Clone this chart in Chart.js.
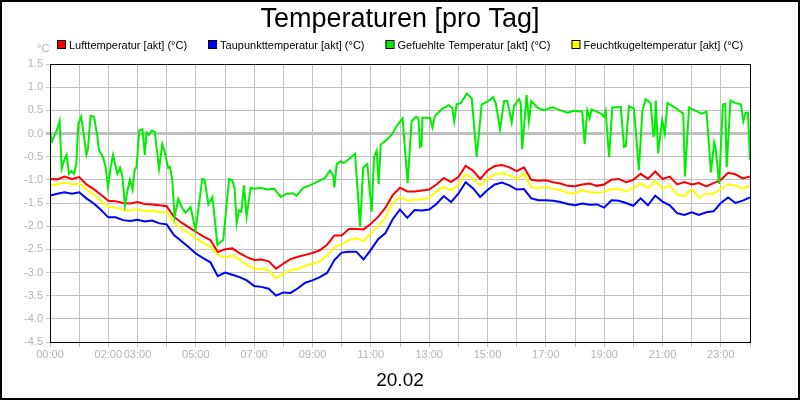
<!DOCTYPE html>
<html>
<head>
<meta charset="utf-8">
<script src="https://cdn.jsdelivr.net/npm/chart.js@4"></script>
<style>
html, body { margin: 0; padding: 0; background: #fff; }
#wrap { width: 800px; height: 400px; }
</style>
</head>
<body>
<div id="wrap"><canvas id="chart" width="800" height="400"></canvas></div>
<script>
// values every 15 minutes, 00:00 .. 24:00
const airTemp = [
    -0.98, -0.99, -0.93, -0.98, -0.94, -1.10, -1.20, -1.32, -1.45, -1.46, -1.50, -1.51, -1.48, -1.52, -1.53, -1.55,
    -1.57, -1.80, -1.92, -2.02, -2.12, -2.22, -2.30, -2.56, -2.50, -2.48, -2.58, -2.67, -2.73, -2.72, -2.76, -2.92,
    -2.81, -2.71, -2.66, -2.62, -2.58, -2.52, -2.40, -2.20, -2.20, -2.06, -2.06, -2.07, -1.95, -1.80, -1.60, -1.33,
    -1.17, -1.25, -1.25, -1.23, -1.21, -1.10, -0.96, -1.05, -0.94, -0.70, -0.80, -0.98, -0.80, -0.70, -0.68, -0.73,
    -0.81, -0.73, -1.00, -1.02, -1.01, -1.05, -1.08, -1.13, -1.14, -1.10, -1.08, -1.13, -1.10, -1.00, -0.98, -1.05,
    -1.00, -0.87, -0.98, -0.82, -0.98, -0.93, -1.10, -1.05, -1.10, -1.07, -1.14, -1.07, -1.00, -0.85, -0.88, -0.97,
    -0.93
];
const dewPoint = [
    -1.34, -1.30, -1.27, -1.30, -1.27, -1.40, -1.51, -1.65, -1.81, -1.81, -1.87, -1.89, -1.86, -1.90, -1.88, -1.94,
    -1.96, -2.19, -2.32, -2.45, -2.59, -2.69, -2.78, -3.08, -3.00, -3.05, -3.10, -3.17, -3.29, -3.31, -3.35, -3.50,
    -3.43, -3.44, -3.34, -3.22, -3.17, -3.10, -3.01, -2.73, -2.57, -2.55, -2.55, -2.72, -2.51, -2.28, -2.15, -1.85,
    -1.64, -1.82, -1.65, -1.66, -1.64, -1.52, -1.35, -1.48, -1.30, -1.05, -1.18, -1.37, -1.22, -1.10, -1.06, -1.12,
    -1.21, -1.20, -1.40, -1.44, -1.44, -1.45, -1.48, -1.52, -1.55, -1.51, -1.54, -1.53, -1.60, -1.44, -1.45, -1.50,
    -1.56, -1.40, -1.55, -1.34, -1.47, -1.55, -1.72, -1.76, -1.70, -1.76, -1.70, -1.68, -1.50, -1.38, -1.50, -1.45,
    -1.38
];
const wetBulb = [
    -1.12, -1.10, -1.05, -1.10, -1.08, -1.20, -1.32, -1.45, -1.58, -1.60, -1.64, -1.66, -1.63, -1.68, -1.66, -1.70,
    -1.70, -1.92, -2.05, -2.15, -2.26, -2.36, -2.44, -2.62, -2.68, -2.63, -2.72, -2.84, -2.92, -2.92, -2.95, -3.13,
    -3.02, -2.95, -2.92, -2.86, -2.81, -2.76, -2.64, -2.45, -2.40, -2.30, -2.26, -2.32, -2.16, -2.00, -1.82, -1.50,
    -1.37, -1.45, -1.43, -1.42, -1.39, -1.25, -1.15, -1.22, -1.12, -0.87, -0.97, -1.12, -0.98, -0.88, -0.86, -0.90,
    -0.98, -0.87, -1.16, -1.18, -1.15, -1.20, -1.22, -1.28, -1.30, -1.22, -1.27, -1.28, -1.26, -1.20, -1.20, -1.25,
    -1.18, -1.08, -1.18, -1.02, -1.19, -1.12, -1.32, -1.35, -1.20, -1.38, -1.30, -1.30, -1.19, -1.10, -1.12, -1.19,
    -1.12
];

// felt temperature is sampled irregularly (hour of day)
const feltHours = [
    0, 0.07, 0.16, 0.23, 0.33, 0.4, 0.5, 0.57, 0.65, 0.73, 0.82, 0.9, 0.97, 1.07, 1.16, 1.25, 1.3, 1.39, 1.51, 1.62,
    1.68, 1.82, 1.91, 1.99, 2.08, 2.16, 2.31, 2.4, 2.48, 2.57, 2.65, 2.74, 2.83, 2.9, 2.97, 3.06, 3.17, 3.25, 3.31, 3.39,
    3.49, 3.59, 3.74, 3.85, 3.93, 4.05, 4.11, 4.19, 4.27, 4.4, 4.54, 4.65, 4.82, 4.99, 5.22, 5.3, 5.43, 5.57, 5.74, 5.85,
    5.94, 6.14, 6.25, 6.33, 6.4, 6.48, 6.56, 6.65, 6.74, 6.88, 7.02, 7.22, 7.45, 7.68, 7.91, 8.0,
    8.11, 8.32, 8.46, 8.69, 8.91, 9.14, 9.43, 9.6, 9.71, 9.75, 9.83, 9.97, 10.08, 10.29, 10.46, 10.63, 10.74, 10.88, 11.03, 11.11,
    11.2, 11.27, 11.34, 11.54, 11.71, 11.89, 12.09, 12.26, 12.4, 12.55, 12.63, 12.69, 12.74, 12.77, 13.03, 13.11, 13.2, 13.43, 13.66, 13.79,
    13.86, 13.94, 14.09, 14.29, 14.46, 14.63, 14.8, 14.91, 15.03, 15.2, 15.29, 15.43, 15.57, 15.68, 15.83, 15.91, 16.0,
    16.08, 16.14, 16.19, 16.34, 16.42, 16.5, 16.71, 16.94, 17.22, 17.51, 17.74, 17.97, 18.25, 18.33, 18.42, 18.5, 18.57, 18.82, 18.93, 18.99,
    19.05, 19.17, 19.28, 19.57, 19.68, 19.74, 19.85, 20.02, 20.19, 20.31, 20.42, 20.59, 20.69, 20.73, 20.77, 20.85, 20.99, 21.08, 21.17, 21.42,
    21.71, 21.77, 21.91, 22.11, 22.34, 22.51, 22.66, 22.77, 22.82, 22.94, 23.07, 23.15, 23.2, 23.33, 23.49, 23.69, 23.77, 23.85, 23.93, 24
];
const feltTemp = [
    0, -0.17, -0.03, 0.06, 0.27, -0.76, -0.55, -0.46, -0.87, -0.81, -0.87, -0.66, 0.2, 0.36, -0.05, -0.46, -0.34, 0.38, 0.36, -0.05,
    -0.36, -0.51, -0.73, -1.16, -0.73, -0.46, -0.87, -0.74, -0.91, -1.55, -1.26, -1.0, -1.21, -0.8, -0.71, 0.06, 0.09, -0.46, 0.02, -0.03,
    0.06, 0.04, -0.76, -0.23, -0.39, -0.74, -0.72, -0.98, -1.8, -1.41, -1.62, -1.71, -1.59, -2.09, -0.98, -1.0, -1.53, -1.37, -2.41, -2.34,
    -2.3, -0.98, -1.01, -1.19, -1.94, -1.66, -1.69, -1.12, -1.79, -1.17, -1.19, -1.17, -1.21, -1.19, -1.37, -1.34,
    -1.3, -1.29, -1.34, -1.17, -1.12, -1.05, -0.96, -0.8, -0.91, -1.17, -0.66, -0.6, -0.64, -0.53, -0.44, -2.01, -0.73, -0.66, -1.69, -0.51,
    -0.37, -1.09, -0.24, -0.14, -0.03, 0.16, 0.33, -1.07, 0.27, 0.36, 0.33, -0.29, -0.27, 0.34, 0.34, 0.13, 0.38, 0.52, 0.61, 0.56,
    0.26, 0.63, 0.66, 0.86, 0.76, -0.51, 0.63, 0.66, 0.7, 0.79, 0.63, 0.09, 0.7, 0.7, 0.24, 0.59, 0.68,
    0.74, 0.66, -0.34, 0.83, 0.26, 0.7, 0.56, 0.5, 0.57, 0.5, 0.45, 0.49, 0.47, -0.23, 0.5, 0.33, 0.52, 0.45, 0.41, 0.36,
    0.49, -0.51, 0.56, 0.57, -0.29, -0.27, 0.59, 0.54, -0.79, 0.49, 0.74, 0.66, -0.05, -0.03, 0.71, -0.43, 0.29, 0.0, 0.66, 0.56,
    0.43, -0.93, 0.56, 0.5, 0.43, 0.47, -0.84, -0.19, -0.3, -1.09, 0.63, 0.64, -0.73, 0.71, 0.66, 0.63, 0.26, 0.45, 0.45, -0.57
];

const xLabels = ['00:00', '02:00', '03:00', '05:00', '07:00', '09:00', '11:00', '13:00', '15:00', '17:00', '19:00', '21:00', '23:00'];
const seriesNames = ['Lufttemperatur [akt] (°C)', 'Taupunkttemperatur [akt] (°C)', 'Gefuehlte Temperatur [akt] (°C)', 'Feuchtkugeltemperatur [akt] (°C)'];
const seriesColors = ['#ff0000', '#0000ff', '#00ee00', '#ffff00'];
const chartTitle = 'Temperaturen [pro Tag]';
const dayLabel = '20.02';
const unitLabel = '°C';

const quarter = (arr) => arr.map((v, i) => ({x: i / 4, y: v}));
const felt = feltHours.map((h, i) => ({x: h, y: feltTemp[i]}));

const FONT = '"Liberation Sans", Arial, sans-serif';

const decor = {
    id: 'decor',
    afterDatasetsDraw(chart) {
        const {ctx, chartArea: a} = chart;
        ctx.save();
        ctx.strokeStyle = '#000';
        ctx.lineWidth = 1;
        ctx.strokeRect(Math.round(a.left) + 0.5, Math.round(a.top) + 0.5, Math.round(a.right - a.left), Math.round(a.bottom - a.top));
        ctx.restore();
    },
    afterDraw(chart) {
        const {ctx} = chart;
        ctx.save();
        // title
        ctx.fillStyle = '#000';
        ctx.textAlign = 'center';
        ctx.textBaseline = 'alphabetic';
        ctx.font = '27px ' + FONT;
        ctx.fillText(chartTitle, 400, 27);
        // day
        ctx.font = '19px ' + FONT;
        ctx.fillText(dayLabel, 400, 386);
        // unit
        ctx.fillStyle = '#b4b4b4';
        ctx.font = '11px ' + FONT;
        ctx.textAlign = 'left';
        ctx.fillText(unitLabel, 37, 52);
        // legend
        ctx.font = '11px ' + FONT;
        const gap = 21;
        const widths = seriesNames.map(n => 8 + 4 + ctx.measureText(n).width);
        const total = widths.reduce((s, w) => s + w, 0) + gap * (widths.length - 1);
        let x = Math.round(400 - total / 2);
        seriesNames.forEach((n, i) => {
            ctx.fillStyle = seriesColors[i];
            ctx.fillRect(x, 40, 8, 8);
            ctx.strokeStyle = '#000';
            ctx.lineWidth = 1;
            ctx.strokeRect(x + 0.5, 40.5, 8, 8);
            ctx.fillStyle = '#000';
            ctx.fillText(n, x + 12, 49);
            x += widths[i] + gap;
        });
        // outer frame
        ctx.strokeStyle = '#000';
        ctx.lineWidth = 2;
        ctx.strokeRect(1, 1, 798, 398);
        ctx.restore();
    }
};

const ds = (label, data, color, order) => ({
    label, data, borderColor: color, backgroundColor: color,
    borderWidth: 2, pointRadius: 0, tension: 0, fill: false, order
});

new Chart(document.getElementById('chart'), {
    type: 'line',
    data: {
        datasets: [
            ds(seriesNames[0], quarter(airTemp), seriesColors[0], 2),
            ds(seriesNames[1], quarter(dewPoint), seriesColors[1], 3),
            ds(seriesNames[2], felt, seriesColors[2], 0),
            ds(seriesNames[3], quarter(wetBulb), seriesColors[3], 1)
        ]
    },
    options: {
        responsive: false,
        animation: false,
        parsing: false,
        layout: { padding: { left: 0, right: 50, top: 64, bottom: 38 } },
        plugins: { legend: { display: false }, title: { display: false }, tooltip: { enabled: false } },
        scales: {
            x: {
                type: 'linear',
                min: 0,
                max: 24,
                afterFit(scale) { scale.height = 20; },
                ticks: {
                    stepSize: 1,
                    autoSkip: false,
                    maxRotation: 0,
                    padding: 1,
                    color: '#b4b4b4',
                    font: { family: FONT, size: 11 },
                    callback: (v) => {
                        const s = String(v).padStart(2, '0') + ':00';
                        return xLabels.includes(s) ? s : '';
                    }
                },
                grid: { color: '#c0c0c0', tickLength: 5, tickColor: '#c0c0c0' },
                border: { display: true, color: '#000' }
            },
            y: {
                min: -4.5,
                max: 1.5,
                afterFit(scale) { scale.width = 50; },
                ticks: {
                    stepSize: 0.5,
                    padding: 3,
                    color: '#b4b4b4',
                    font: { family: FONT, size: 11 },
                    callback: (v) => v.toFixed(1)
                },
                grid: {
                    color: '#c0c0c0',
                    tickLength: 4,
                    tickColor: '#c0c0c0',
                    lineWidth: (c) => (c.tick && c.tick.value === 0 ? 3 : 1)
                },
                border: { display: true, color: '#000' }
            }
        }
    },
    plugins: [decor]
});
</script>
</body>
</html>
